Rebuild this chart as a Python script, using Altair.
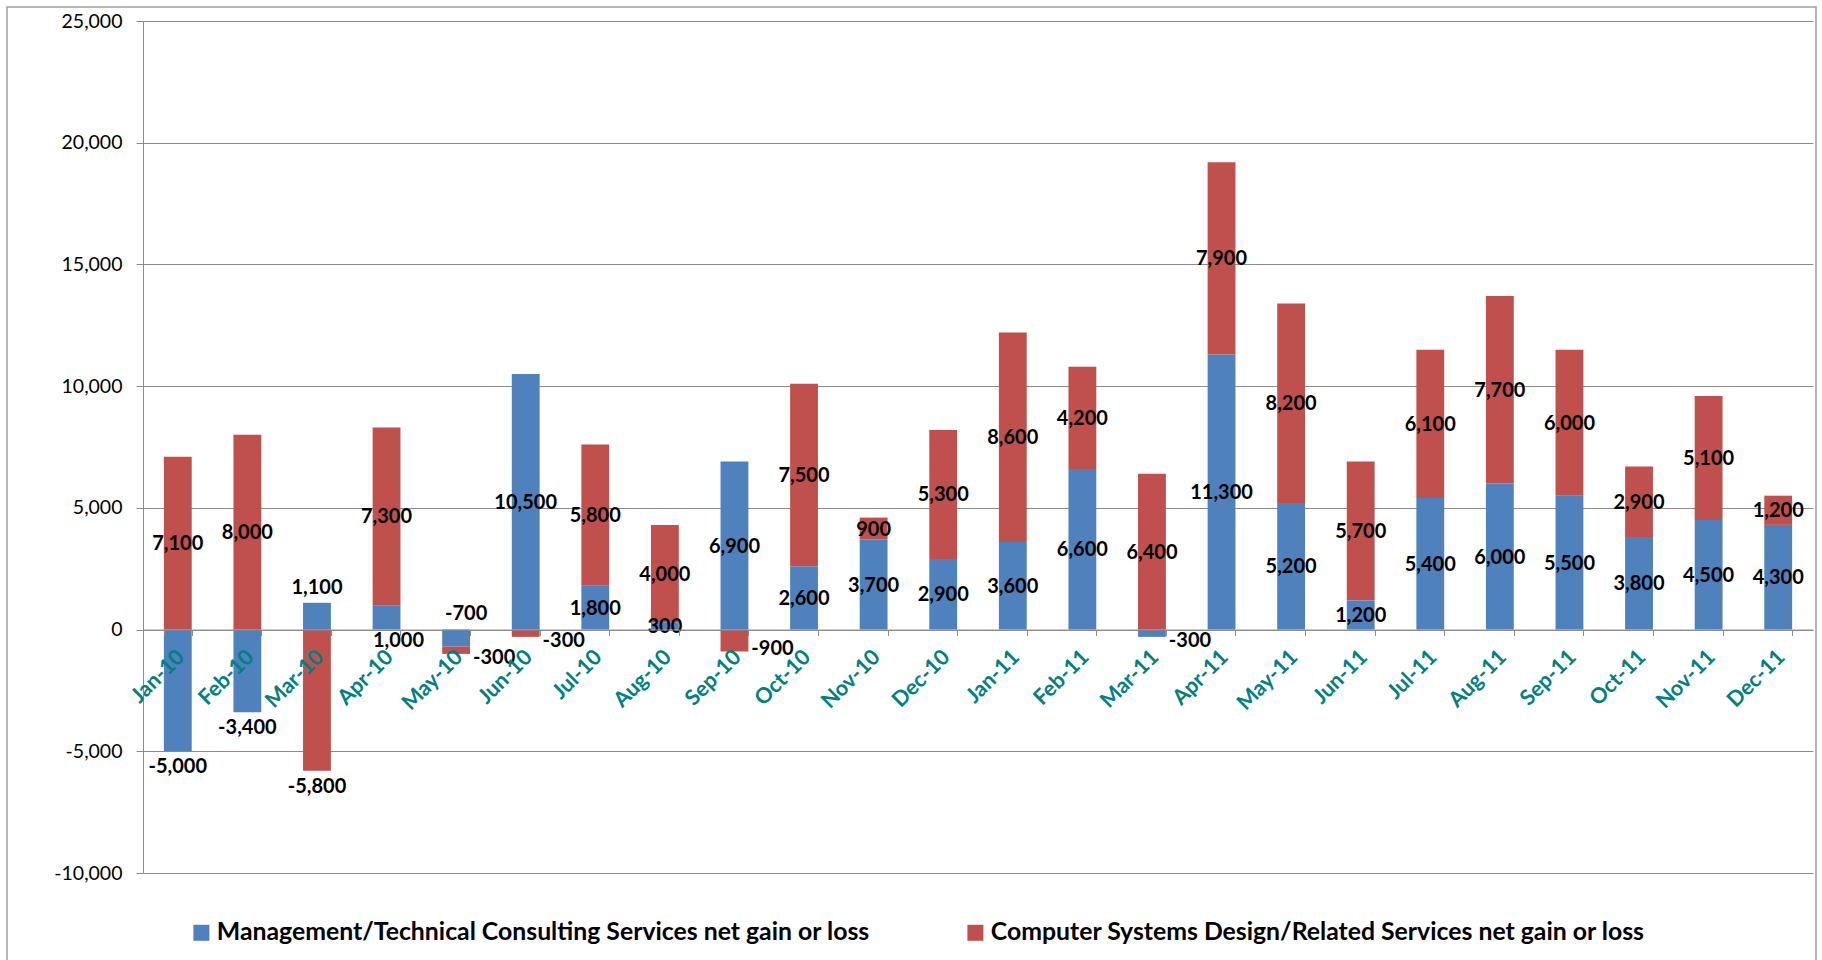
import altair as alt
import pandas as pd

# ---------------- data ----------------
months = ["Jan-10", "Feb-10", "Mar-10", "Apr-10", "May-10", "Jun-10", "Jul-10", "Aug-10",
          "Sep-10", "Oct-10", "Nov-10", "Dec-10", "Jan-11", "Feb-11", "Mar-11", "Apr-11",
          "May-11", "Jun-11", "Jul-11", "Aug-11", "Sep-11", "Oct-11", "Nov-11", "Dec-11"]
mgmt = [-5000, -3400, 1100, 1000, -700, 10500, 1800, 300, 6900, 2600, 3700, 2900,
        3600, 6600, -300, 11300, 5200, 1200, 5400, 6000, 5500, 3800, 4500, 4300]
comp = [7100, 8000, -5800, 7300, -300, -300, 5800, 4000, -900, 7500, 900, 5300,
        8600, 4200, 6400, 7900, 8200, 5700, 6100, 7700, 6000, 2900, 5100, 1200]
series_names = ["Management/Technical Consulting Services net gain or loss",
                "Computer Systems Design/Related Services net gain or loss"]
y_ticks = [-10000, -5000, 0, 5000, 10000, 15000, 20000, 25000]

# ---------------- styling ----------------
series_colors = ["#4F81BD", "#C0504D"]
GRID = "#8c8c8c"
TEAL = "#008080"
FONT = "Lato"
PLOT_W, PLOT_H = 1670, 852
Y_MIN, Y_MAX = -10000, 25000
zero_offset = -PLOT_H * (0 - Y_MIN) / (Y_MAX - Y_MIN)

# label placement exceptions (series index 0 = management, 1 = computer)
LABEL_PLACE = {
    ("Jan-10", 0): "end", ("Feb-10", 0): "end", ("Mar-10", 0): "end", ("Mar-10", 1): "end",
    ("Apr-10", 0): "base", ("May-10", 0): "base",
    ("May-10", 1): "right", ("Jun-10", 1): "right", ("Sep-10", 1): "right", ("Mar-11", 0): "right",
}

rows = []
for i, m in enumerate(months):
    for s, vals in enumerate((mgmt, comp)):
        v = vals[i]
        rows.append({"month": m, "series": series_names[s], "sidx": s, "value": v,
                     "label": f"{v:,}", "place": LABEL_PLACE.get((m, s), "c")})
df = pd.DataFrame(rows)

base = alt.Chart(df).transform_stack(
    stack="value", groupby=["month"], as_=["y0", "y1"],
    sort=[alt.SortField("sidx", order="ascending")], offset="zero"
).transform_calculate(
    mid="(datum.y0 + datum.y1) / 2",
    lo="min(datum.y0, datum.y1)",
    hi="max(datum.y0, datum.y1)",
    zero="0",
)

x_scale = alt.Scale(paddingInner=0.6, paddingOuter=0.3)
y_scale = alt.Scale(domain=[Y_MIN, Y_MAX], nice=False, zero=False)

x_axis = alt.Axis(title=None, offset=zero_offset, domainColor=GRID, domainWidth=1,
                  tickColor=GRID, tickSize=6, tickWidth=1, tickBand="extent",
                  labelAngle=315, labelAlign="right", labelBaseline="middle",
                  labelPadding=18, labelOffset=3, labelFont=FONT, labelFontSize=21.5,
                  labelFontWeight="bold", labelColor=TEAL, grid=False, zindex=1)
y_axis = alt.Axis(title=None, values=y_ticks, domainColor=GRID, domainWidth=1,
                  tickColor=GRID, tickSize=7, tickWidth=1,
                  gridColor=GRID, gridWidth=1,
                  labelFont=FONT, labelFontSize=19.5, labelColor="black",
                  labelPadding=14,
                  labelExpr="(datum.value < 0 ? '-' : '') + format(abs(datum.value), ',')")

bars = base.mark_bar().encode(
    x=alt.X("month:N", sort=months, scale=x_scale, axis=x_axis),
    y=alt.Y("y0:Q", scale=y_scale, axis=y_axis),
    y2="y1:Q",
    color=alt.Color("series:N", scale=alt.Scale(domain=series_names, range=series_colors),
                    legend=alt.Legend(title=None, orient="none", direction="horizontal",
                                      legendX=46, legendY=899,
                                      symbolType="square", symbolSize=256,
                                      symbolStrokeWidth=0, symbolOpacity=1,
                                      labelFont=FONT, labelFontSize=24.8,
                                      labelFontWeight="bold", labelColor="black",
                                      labelLimit=1000, columnPadding=93, labelOffset=3)),
    order=alt.Order("sidx:Q"),
)

def label_layer(filter_expr, yfield, dx=0, dy=0):
    return base.transform_filter(filter_expr).mark_text(
        font=FONT, fontSize=20, fontWeight="bold", color="black",
        align="center", baseline="middle", dx=dx, dy=dy
    ).encode(
        x=alt.X("month:N", sort=months, scale=x_scale, axis=x_axis),
        y=alt.Y(f"{yfield}:Q", scale=y_scale, axis=y_axis),
        text="label:N",
    )

labels = [
    label_layer("datum.place == 'c'", "mid", dy=1),
    label_layer("datum.place == 'right'", "mid", dx=38, dy=8),
    label_layer("datum.place == 'end' && datum.value < 0", "lo", dy=16),
    label_layer("datum.place == 'end' && datum.value >= 0", "hi", dy=-15),
    label_layer("datum.place == 'base' && datum.value >= 0", "zero", dx=12, dy=11),
    label_layer("datum.place == 'base' && datum.value < 0", "zero", dx=10, dy=-16),
]

frame = alt.Chart(pd.DataFrame({"k": [0]})).mark_rect(
    fill="white", fillOpacity=0, stroke="#a0a0a0", strokeWidth=1.5
).encode(x=alt.value(-136), x2=alt.value(1673), y=alt.value(-14), y2=alt.value(965))

chart = alt.layer(bars, *labels, frame).properties(
    width=PLOT_W, height=PLOT_H,
    autosize=alt.AutoSizeParams(type="none"),
    padding={"left": 143, "top": 21, "right": 9, "bottom": 87},
    background="white",
).configure_view(strokeWidth=0)

chart.save("out.html", embed_options={"renderer": "svg", "actions": False})
